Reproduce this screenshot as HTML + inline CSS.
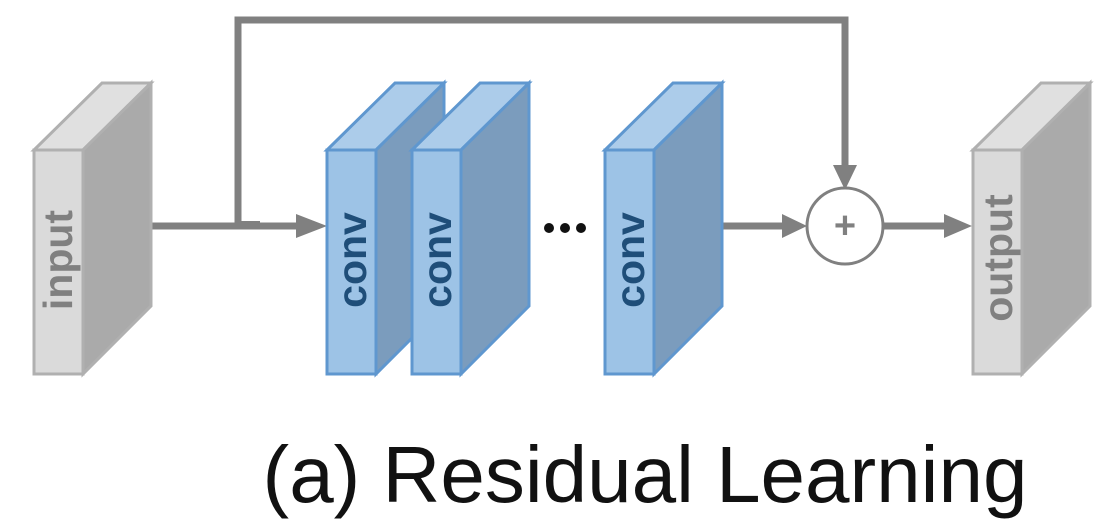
<!DOCTYPE html>
<html><head><style>body{margin:0;background:#fff}svg{display:block}</style></head><body>
<svg width="1109" height="531" viewBox="0 0 1109 531" xmlns="http://www.w3.org/2000/svg">
<defs>
<g id="gb"><polygon points="0,67 68,0 117,0 49,67" fill="#e0e0e0" stroke="#b0b0b0" stroke-width="3"/><polygon points="49,67 117,0 117,223 49,291" fill="#aaaaaa" stroke="#b0b0b0" stroke-width="3"/><rect x="0" y="67" width="49" height="224" fill="#dadada" stroke="#b0b0b0" stroke-width="3"/></g>
<g id="bb"><polygon points="0,67 68,0 117,0 49,67" fill="#acccea" stroke="#5f97cf" stroke-width="3"/><polygon points="49,67 117,0 117,223 49,291" fill="#7b9cbd" stroke="#5f97cf" stroke-width="3"/><rect x="0" y="67" width="49" height="224" fill="#9dc3e6" stroke="#5f97cf" stroke-width="3"/></g>
</defs>
<g fill="none" stroke="#808080" stroke-width="7">
<polyline points="238,226 238,20 845,20 845,170"/>
<line x1="150" y1="226" x2="300" y2="226"/>
<line x1="722" y1="226" x2="786" y2="226"/>
<line x1="883" y1="226" x2="948" y2="226"/>
</g>
<rect x="238" y="221" width="22" height="4" fill="#808080"/>
<g fill="#808080">
<polygon points="296,214 327,226 296,238"/>
<polygon points="782,214 807,226 782,238"/>
<polygon points="944,214 972,226 944,238"/>
<polygon points="833,165 857,165 845,190"/>
</g>
<circle cx="845" cy="226" r="38" fill="#fff" stroke="#808080" stroke-width="3"/>
<text x="845" y="238" text-anchor="middle" font-family="Liberation Sans, sans-serif" font-size="38" font-weight="bold" fill="#808080">+</text>
<use href="#gb" x="34" y="83"/>
<use href="#bb" x="327" y="83"/>
<use href="#bb" x="412" y="83"/>
<use href="#bb" x="605" y="83"/>
<use href="#gb" x="973" y="83"/>
<g font-family="Liberation Sans, sans-serif" font-weight="bold" font-size="41" text-anchor="middle">
<text transform="translate(72,260) rotate(-90)" fill="#808080">input</text>
<text transform="translate(366,260) rotate(-90)" fill="#1f4e79">conv</text>
<text transform="translate(451,260) rotate(-90)" fill="#1f4e79">conv</text>
<text transform="translate(644,260) rotate(-90)" fill="#1f4e79">conv</text>
<text transform="translate(1012,258) rotate(-90)" fill="#808080">output</text>
</g>
<g fill="#111"><circle cx="549" cy="228" r="5"/><circle cx="565" cy="228" r="5"/><circle cx="581" cy="228" r="5"/></g>
<text x="645" y="502" text-anchor="middle" font-family="Liberation Sans, sans-serif" font-size="80" fill="#111">(a) Residual Learning</text>
</svg>
</body></html>
